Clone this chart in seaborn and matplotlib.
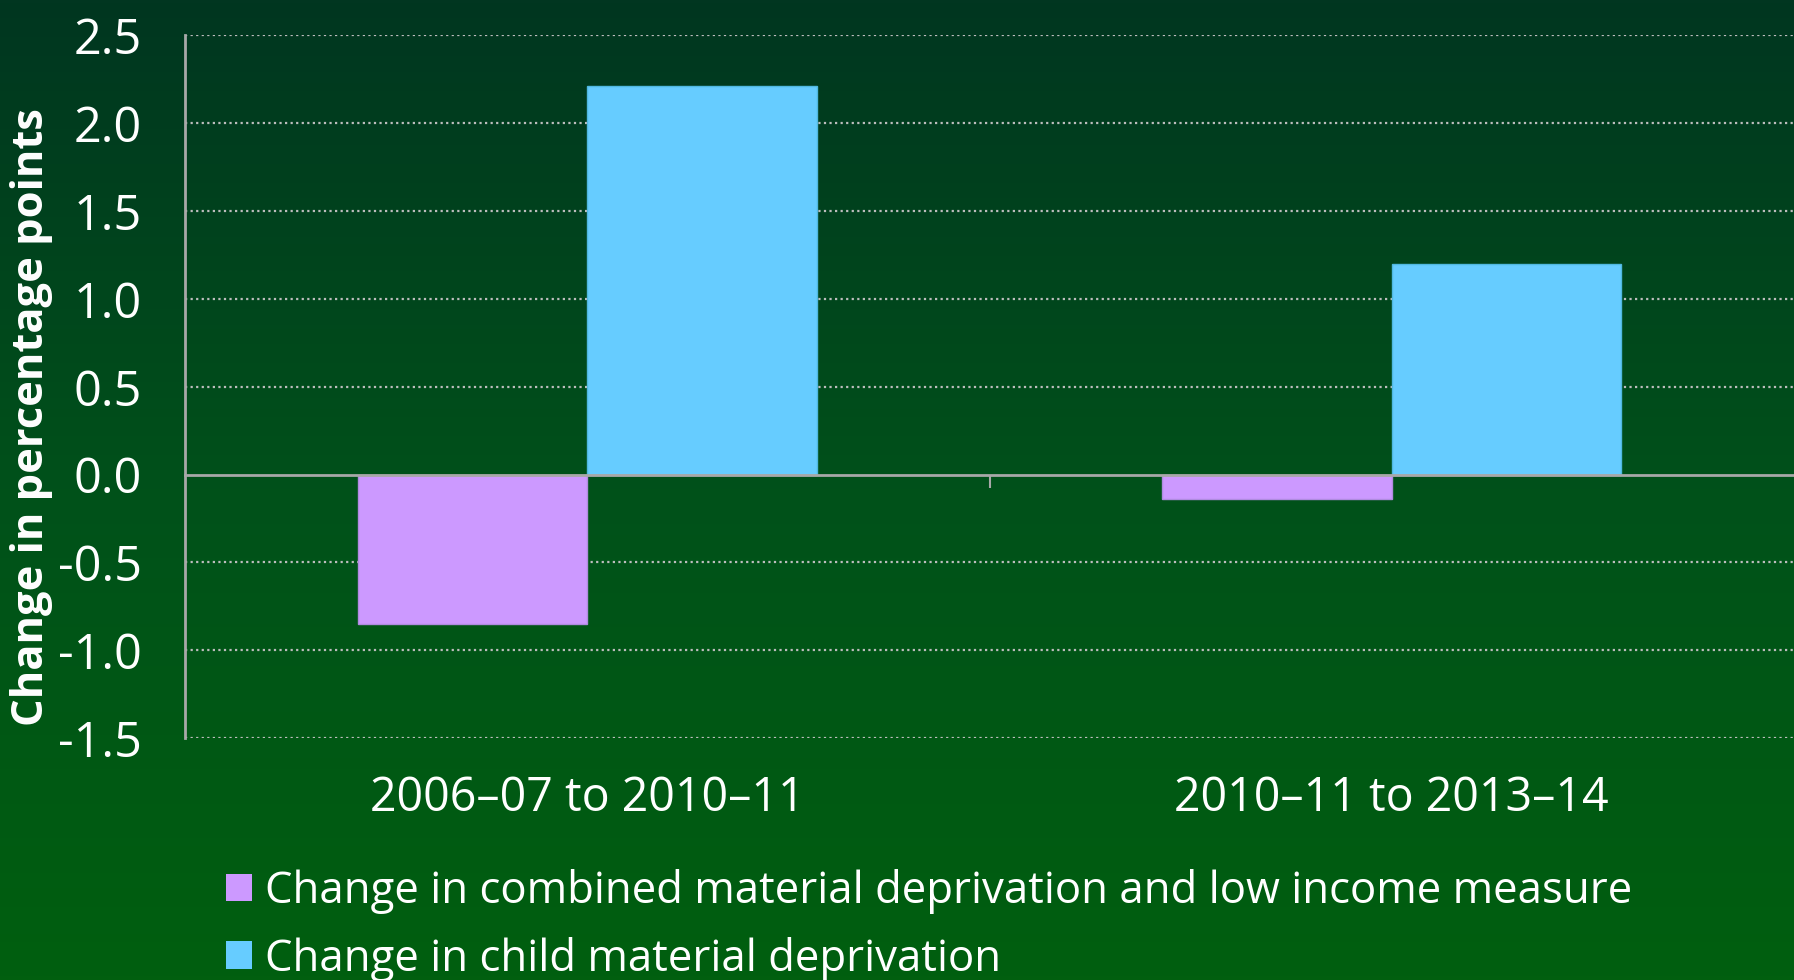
import numpy as np
import pandas as pd
import matplotlib
matplotlib.use("Agg")
import matplotlib.pyplot as plt
from matplotlib import font_manager
from matplotlib.colors import LinearSegmentedColormap
import seaborn as sns

periods = ["2006\u201307 to 2010\u201311", "2010\u201311 to 2013\u201314"]
measures = [
    "Change in combined material deprivation and low income measure",
    "Change in child material deprivation",
]
combined_change = [-0.85, -0.14]
child_change = [2.21, 1.20]
y_ticks = [-1.5, -1.0, -0.5, 0.0, 0.5, 1.0, 1.5, 2.0, 2.5]
bar_colors = ["#CC99FF", "#66CCFF"]
edge_colors = ["#B08BE0", "#4FB8E0"]

df = pd.DataFrame({
    "period": periods * 2,
    "measure": [measures[0]] * 2 + [measures[1]] * 2,
    "value": combined_change + child_change,
})

sns.set_theme(style="white")
names = {f.name for f in font_manager.fontManager.ttflist}
main_font = "Open Sans" if "Open Sans" in names else "DejaVu Sans"
plt.rcParams["font.family"] = [main_font, "DejaVu Sans"]

W, H = 1794, 980
fig = plt.figure(figsize=(W / 100, H / 100), dpi=100)

# vertical green gradient backdrop
bg = fig.add_axes([0, 0, 1, 1], zorder=-10)
grad = np.linspace(0, 1, 256).reshape(-1, 1)
cmap = LinearSegmentedColormap.from_list("bg", ["#013620", "#00511A", "#015F0F"])
bg.imshow(grad, aspect="auto", cmap=cmap, extent=[0, 1, 0, 1], origin="upper")
bg.set_axis_off()

ax = fig.add_axes([185 / W, 1 - 738 / H, 1 - 185 / W, (738 - 35.5) / H])
ax.patch.set_alpha(0)

sns.barplot(data=df, x="period", y="value", hue="measure", hue_order=measures,
            palette=bar_colors, saturation=1, width=0.57, gap=0, ax=ax,
            legend=False, zorder=3)
for cont, ec in zip(ax.containers, edge_colors):
    for p in cont:
        p.set_edgecolor(ec)
        p.set_linewidth(1.0)

ax.set_xlim(-0.5, 1.5)
ax.set_ylim(-1.5, 2.5)
ax.set_yticks(y_ticks)
ax.set_yticklabels([f"{v:.1f}" for v in y_ticks])

grid_c = "#BDBDBD"
for v in y_ticks:
    if v != 0:
        ax.axhline(v, color=grid_c, lw=1.6, ls=(0, (1, 1.5)), zorder=1)

for s in ["top", "right", "bottom"]:
    ax.spines[s].set_visible(False)
ax.spines["left"].set_color("#A8A8A8")
ax.spines["left"].set_linewidth(2)
ax.tick_params(axis="y", colors="#A8A8A8", length=10, width=2, direction="out",
               labelcolor="white", labelsize=35, pad=21)
ax.tick_params(axis="x", length=0, labelcolor="white", labelsize=33.5, pad=26)
ax.set_xlabel("")
ax.set_ylabel("Change in percentage points", color="white", fontsize=31.3,
              fontweight="bold")
ax.yaxis.set_label_coords((53 - 185) / 1609, 0.457)

# zero line with a divider tick between the two periods
zero = ax.secondary_xaxis(1.5 / 4.0)
zero.spines["bottom"].set_color("#A8A8A8")
zero.spines["bottom"].set_linewidth(2)
zero.set_xticks([0.5])
zero.set_xticklabels([""])
zero.tick_params(axis="x", colors="#A8A8A8", length=9, width=1.5, direction="out")
zero.set_zorder(4)

handles = [plt.Rectangle((0, 0), 1, 1, facecolor=c, edgecolor="none") for c in bar_colors]
fig.legend(handles, measures, loc="upper left", bbox_to_anchor=(226 / W, 1 - 869 / H),
           frameon=False, ncol=1, prop={"family": main_font, "size": 31.5},
           labelcolor="white", handlelength=0.6, handleheight=0.6,
           handletextpad=0.3, labelspacing=0.52, borderaxespad=0, borderpad=0)

fig.savefig("out.png", dpi=100)
